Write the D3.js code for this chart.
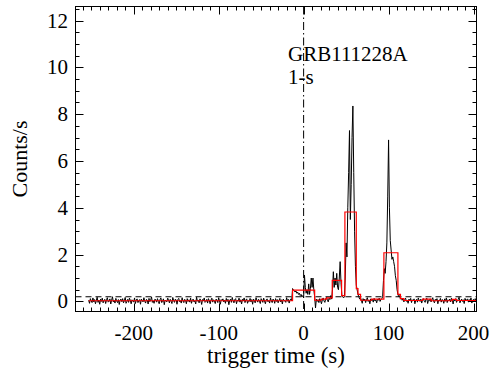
<!DOCTYPE html>
<html><head><meta charset="utf-8">
<script src="https://cdn.jsdelivr.net/npm/d3@7"></script>
<style>body{margin:0;background:#fff}svg{display:block}</style>
</head><body><svg id="c" width="491" height="373"></svg>
<script>
// ---- data ----
const binStart = -253;   // first 1-s bin (s)
const binWidth = 1;      // s
const counts = [
 0.05,-0.08,0.12,0.02,-0.05,0.15,-0.02,0.08,-0.1,0.04,0.18,-0.04,0.06,-0.12,0.1,0.0,0.14,-0.06,0.03,0.09,
 -0.09,0.07,0.16,-0.03,0.01,0.11,-0.11,0.05,0.2,-0.02,0.04,-0.07,0.13,0.02,-0.05,0.08,-0.13,0.06,0.1,-0.01,
 0.12,-0.06,0.03,0.17,-0.08,0.0,0.09,-0.04,0.14,0.05,-0.1,0.07,0.02,-0.03,0.15,-0.09,0.06,0.11,-0.05,0.03,
 0.08,-0.12,0.1,0.04,-0.02,0.16,0.01,-0.07,0.09,0.05,-0.11,0.13,-0.01,0.06,0.19,-0.04,0.02,-0.08,0.1,0.07,
 -0.03,0.12,0.0,-0.1,0.08,0.15,-0.05,0.03,0.11,-0.14,0.06,0.02,-0.02,0.14,0.07,-0.06,0.09,0.01,-0.09,0.17,
 0.04,-0.04,0.1,0.06,-0.12,0.08,0.13,-0.01,0.03,-0.07,0.16,0.02,-0.05,0.09,0.05,-0.1,0.12,0.0,0.07,-0.03,
 0.14,-0.08,0.05,0.1,-0.02,0.03,-0.11,0.18,0.01,0.06,-0.06,0.11,0.04,-0.13,0.08,0.02,0.15,-0.04,0.0,0.09,
 -0.07,0.12,0.03,-0.1,0.06,0.14,-0.03,0.07,0.01,-0.09,0.1,0.05,-0.05,0.16,0.02,-0.12,0.08,0.04,0.11,-0.02,
 0.06,-0.08,0.13,0.0,0.09,-0.14,0.04,0.1,-0.04,0.17,0.03,-0.06,0.08,0.12,-0.1,0.05,0.01,0.14,-0.03,0.07,
 -0.11,0.09,0.02,0.15,-0.05,0.06,0.11,-0.08,0.03,0.0,0.13,-0.02,0.08,-0.12,0.1,0.04,-0.06,0.16,0.05,-0.03,
 0.09,0.01,-0.09,0.12,0.06,-0.04,0.14,0.02,-0.1,0.07,0.11,-0.01,0.04,-0.07,0.15,0.03,-0.05,0.1,0.06,-0.08,
 0.12,0.0,0.08,-0.06,0.04,0.13,-0.02,0.07,-0.11,0.1,0.05,0.02,-0.04,0.16,0.01,0.09,-0.07,0.06,0.11,0.03,
 // -13 .. 0
 0.55,0.5,0.45,0.4,0.45,0.35,0.4,0.3,0.35,0.25,0.3,0.2,0.25,0.15,
 // 1 .. 14
 1.13,0.6,0.35,0.5,0.3,0.75,0.3,0.55,1.0,0.6,1.0,0.5,0.2,-0.28,
 // 15 .. 33
 0.1,0.0,0.08,-0.05,0.12,0.03,-0.1,0.06,0.15,0.02,-0.04,0.1,0.18,0.05,-0.02,0.14,0.08,0.25,0.1,
 // 34 .. 47
 0.5,1.27,0.6,1.0,0.7,1.2,0.6,0.5,1.0,1.7,0.8,0.3,0.2,0.15,
 // 48 .. 64
 0.2,1.0,2.5,1.9,4.0,5.5,7.3,3.5,5.0,7.0,8.35,5.5,3.0,1.5,0.7,0.5,0.3,
 // 65 .. 93
 0.2,0.1,0.15,0.05,-0.08,0.12,0.03,0.1,-0.05,0.08,0.16,0.0,0.06,-0.1,0.11,0.04,0.09,-0.03,0.13,0.02,0.07,-0.06,0.1,0.05,0.14,0.0,0.08,0.12,0.2,
 // 94 .. 112
 0.9,1.4,1.2,1.7,2.5,4.5,6.9,4.0,2.6,2.2,1.8,1.9,1.7,1.5,1.1,0.9,0.5,0.3,0.2,
 // 113 .. 204
 0.25,0.1,0.15,0.05,0.12,-0.02,0.08,0.14,0.0,0.06,-0.08,0.1,0.03,0.13,-0.05,0.07,0.02,0.11,-0.1,0.05,
 0.09,-0.03,0.15,0.04,0.0,0.1,-0.07,0.06,0.12,0.01,-0.04,0.08,0.14,-0.09,0.05,0.03,0.11,-0.02,0.07,0.16,
 0.0,-0.06,0.09,0.04,0.12,-0.1,0.06,0.02,0.13,-0.03,0.08,0.05,-0.08,0.11,0.01,0.15,-0.05,0.07,0.03,0.1,
 -0.02,0.14,0.06,-0.11,0.09,0.02,0.12,-0.04,0.05,0.08,0.18,-0.06,0.03,0.1,0.0,0.07,-0.09,0.13,0.04,0.06,
 0.11,-0.03,0.08,0.02,0.15,-0.07,0.05,0.09,0.01,0.12,0.04,0.1
];
// Bayesian-block (red) step curve
const blockEdges  = [-253,-13,13,21,27,33.7,44.7,48.6,62,64,67,80,94.5,111,114,118,140,150,175,180,204];
const blockLevels = [0.03,0.48,0.05,0.1,0.15,0.9,0.25,3.82,0.55,0.3,0.05,0.1,2.08,0.3,0.12,0.04,0.1,0.03,0.09,0.04];
const backgroundLevel = 0.2;
const triggerTime = 0;
const xTicks = [-200,-100,0,100,200];
const yTicks = [0,2,4,6,8,10,12];
const titleLines = ["GRB111228A","1-s"];
const xLabel = "trigger time (s)";
const yLabel = "Counts/s";

// ---- layout ----
const FONT = "Liberation Serif, DejaVu Serif, Times New Roman, serif";
const svg = d3.select("#c");
const L=75.5, R=476.5, T=6.5, B=311.5;
const x = d3.scaleLinear().domain([-268.5,203.5]).range([L,R]);
const y = d3.scaleLinear().domain([-0.43,12.6]).range([B,T]);
const fs = 21;

const g = svg.append("g");
svg.append("clipPath").attr("id","clp").append("rect").attr("x",L).attr("y",T).attr("width",R-L).attr("height",B-T);

// background dashed line
g.append("line").attr("x1",L).attr("x2",R).attr("y1",y(backgroundLevel)).attr("y2",y(backgroundLevel))
 .attr("stroke","#000").attr("stroke-width",1).attr("stroke-dasharray","6,4");
// trigger dash-dot line
g.append("line").attr("x1",x(triggerTime)).attr("x2",x(triggerTime)).attr("y1",T).attr("y2",B)
 .attr("stroke","#000").attr("stroke-width",1).attr("stroke-dasharray","8,3,1.5,3");

// light curve
const lc = counts.map((v,i)=>[binStart+i*binWidth, v]);
g.append("path").datum(lc).attr("clip-path","url(#clp)")
 .attr("d", d3.line().x(d=>x(d[0])).y(d=>y(d[1])))
 .attr("fill","none").attr("stroke","#000").attr("stroke-width",1);

// blocks
const bb = blockLevels.map((v,i)=>[blockEdges[i], v]);
bb.push([blockEdges[blockEdges.length-1], blockLevels[blockLevels.length-1]]);
g.append("path").datum(bb).attr("clip-path","url(#clp)")
 .attr("d", d3.line().curve(d3.curveStepAfter).x(d=>x(d[0])).y(d=>y(d[1])))
 .attr("fill","none").attr("stroke","#ff0000").attr("stroke-width",1.2);

// frame
g.append("rect").attr("x",L).attr("y",T).attr("width",R-L).attr("height",B-T)
 .attr("fill","none").attr("stroke","#000").attr("stroke-width",1);

// ticks
const xMinor = d3.range(-260,204,10).filter(v=>v%100!==0);
const yMinor = d3.range(0,12.6,0.5).filter(v=>v%2!==0);
const tk = (x1,y1,x2,y2)=>g.append("line").attr("x1",x1).attr("y1",y1).attr("x2",x2).attr("y2",y2).attr("stroke","#000").attr("stroke-width",1);
xTicks.forEach(v=>{const px=Math.round(x(v))+0.5; tk(px,B,px,B-8); tk(px,T,px,T+8);});
xMinor.forEach(v=>{const px=Math.round(x(v))+0.5; tk(px,B,px,B-4); tk(px,T,px,T+4);});
yTicks.forEach(v=>{const py=Math.round(y(v))+0.5; tk(L,py,L+8,py); tk(R,py,R-8,py);});
yMinor.forEach(v=>{const py=Math.round(y(v))+0.5; tk(L,py,L+4,py); tk(R,py,R-4,py);});

const txt = (sel)=>sel.attr("font-family",FONT).attr("fill","#000");
// tick labels
xTicks.forEach(v=>txt(svg.append("text")).attr("x",x(v)).attr("y",340).attr("text-anchor","middle").attr("font-size",fs).text(v));
yTicks.forEach(v=>txt(svg.append("text")).attr("x",68).attr("y",y(v)+7).attr("text-anchor","end").attr("font-size",fs).text(v));

// axis titles
txt(svg.append("text")).attr("x",(L+R)/2).attr("y",363).attr("text-anchor","middle").attr("font-size",23).text(xLabel);
txt(svg.append("text")).attr("transform",`translate(27,${(T+B)/2}) rotate(-90)`).attr("text-anchor","middle").attr("font-size",22).text(yLabel);

// annotation
titleLines.forEach((t,i)=>txt(svg.append("text")).attr("x",288).attr("y",60.5+i*23.5).attr("font-size",21).text(t));
</script></body></html>
